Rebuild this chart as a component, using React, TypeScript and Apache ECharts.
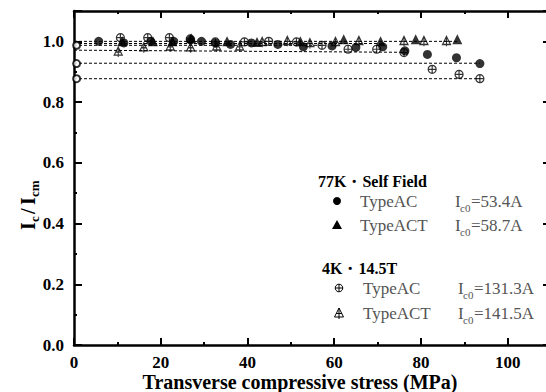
import { useEffect, useRef } from 'react';
import * as echarts from 'echarts';

// ---- data ----
const acSelfX = [5.7, 11.5, 17.7, 23, 26.9, 29.4, 32.6, 36.1, 40.9, 47, 52.9, 59.5, 65, 71.2, 76.3, 81.5, 88.2, 93.6];
const acSelfY = [1.0, 0.995, 1.0, 1.0, 1.005, 1.0, 0.995, 0.99, 0.995, 0.99, 0.982, 0.985, 0.98, 0.982, 0.969, 0.957, 0.946, 0.927];

const actSelfX = [11.1, 18.2, 22.7, 27, 35.3, 42.2, 52.2, 62.2, 70.7, 78.8, 88.4];
const actSelfY = [1.0, 1.0, 1.0, 1.01, 1.0, 0.998, 1.0, 1.007, 1.0, 1.007, 1.007];

const ac4kX = [10.7, 17, 22, 26.8, 32.6, 39.3, 44.9, 51.3, 57.2, 63.2, 69.8, 76.1, 82.6, 88.8, 93.6];
const ac4kY = [1.012, 1.012, 1.012, 1.008, 0.998, 0.998, 1.0, 0.998, 0.987, 0.974, 0.974, 0.963, 0.908, 0.891, 0.877];

const act4kX = [10.2, 16.1, 22.2, 26.9, 32.9, 38.2, 43.4, 49.2, 54.4, 60.3, 65.7, 76.1, 80.7, 85.9];
const act4kY = [0.965, 0.979, 0.982, 0.979, 0.982, 0.982, 0.997, 1.0, 0.993, 0.997, 1.0, 1.0, 1.0, 1.0];

// dashed reference lines: start value, end value, end stress
const refStart = [1.0, 0.993, 0.987, 0.971, 0.928, 0.877];
const refEnd = [1.0, 0.993, 0.987, 0.964, 0.928, 0.877];
const refEndX = [88.6, 71, 57, 76, 93.6, 93.6];

// open marks on the axis
const axisMarkY = [0.987, 0.927, 0.877];

const xTicks = [0, 20, 40, 60, 80, 100];
const legendTitles = ['77K・Self Field', '4K・14.5T'];
const legendNames = ['TypeAC', 'TypeACT', 'TypeAC', 'TypeACT'];
const legendIc0 = ['53.4A', '58.7A', '131.3A', '141.5A'];

const FONT = '"Liberation Serif", "DejaVu Serif", serif';
const CROSS_CIRCLE = 'path://M10,0A10,10,0,1,1,-10,0A10,10,0,1,1,10,0ZM-10,0L10,0M0,-10L0,10';
const CROSS_TRI = 'path://M0,-10L9,8L-9,8ZM0,-10L0,12M-6,1L6,1';

const zip = (xs: number[], ys: number[]) => xs.map((x, i) => [x, ys[i]]);

function axisX(position: string, interval: number, len: number, showLine: boolean, showLabel: boolean) {
  return {
    type: 'value', position, min: 0, max: 110, interval,
    axisLine: { show: showLine, onZero: false, lineStyle: { color: '#000', width: 2.5 } },
    axisTick: { show: true, inside: true, length: len, lineStyle: { color: '#000', width: len > 4 ? 2 : 2 } },
    axisLabel: {
      show: showLabel, margin: 9, color: '#000', fontSize: 17, fontWeight: 'bold', fontFamily: FONT,
      formatter: (v: number) => (xTicks.indexOf(Math.round(v)) >= 0 && Math.abs(v - Math.round(v)) < 1e-6 ? String(Math.round(v)) : ''),
    },
    splitLine: { show: false },
  };
}

function axisY(position: string, interval: number, len: number, showLine: boolean, showLabel: boolean) {
  return {
    type: 'value', position, min: 0, max: 1.1, interval,
    axisLine: { show: showLine, onZero: false, lineStyle: { color: '#000', width: 2.5 } },
    axisTick: { show: true, inside: true, length: len, lineStyle: { color: '#000', width: 2 } },
    axisLabel: {
      show: showLabel, margin: 10, color: '#000', fontSize: 17, fontWeight: 'bold', fontFamily: FONT,
      formatter: (v: number) => (v > 1.05 ? '' : v.toFixed(1)),
    },
    splitLine: { show: false },
  };
}

export default function App() {
  const ref = useRef<HTMLDivElement>(null);
  useEffect(() => {
    if (!ref.current) return;
    const chart = echarts.init(ref.current, null, { renderer: 'svg' });

    const lineSeries = refStart.map((y0, i) => ({
      type: 'line', silent: true, symbol: 'none', z: 1,
      data: [[0, y0], [refEndX[i], refEnd[i]]],
      lineStyle: { color: '#000', width: 1, type: [3, 2] },
    }));

    const rows = [
      { mx: 337, y: 201, tx: 360, ix: 455 },
      { mx: 337, y: 225, tx: 360, ix: 455 },
      { mx: 339, y: 288, tx: 363, ix: 458 },
      { mx: 339, y: 313, tx: 363, ix: 458 },
    ];
    const graphics: any[] = [];
    graphics.push({ type: 'text', x: 318, y: 181, style: { text: legendTitles[0], fontSize: 16, fontWeight: 'bold', fontFamily: FONT, fill: '#000', align: 'left', verticalAlign: 'middle' } });
    graphics.push({ type: 'text', x: 322, y: 268, style: { text: legendTitles[1], fontSize: 16, fontWeight: 'bold', fontFamily: FONT, fill: '#000', align: 'left', verticalAlign: 'middle' } });
    rows.forEach((r, i) => {
      graphics.push({ type: 'text', x: r.tx, y: r.y, style: { text: legendNames[i], fontSize: 17, fontFamily: FONT, fill: '#555', align: 'left', verticalAlign: 'middle' } });
      graphics.push({ type: 'text', x: r.ix, y: r.y, style: { text: 'I', fontSize: 17, fontFamily: FONT, fill: '#555', align: 'left', verticalAlign: 'middle' } });
      graphics.push({ type: 'text', x: r.ix + 5, y: r.y + 7, style: { text: 'c0', fontSize: 11, fontFamily: FONT, fill: '#555', align: 'left', verticalAlign: 'middle' } });
      graphics.push({ type: 'text', x: r.ix + 16, y: r.y, style: { text: '=' + legendIc0[i], fontSize: 17, fontFamily: FONT, fill: '#555', align: 'left', verticalAlign: 'middle' } });
    });
    // legend markers
    const m0 = rows[0], m1 = rows[1], m2 = rows[2], m3 = rows[3];
    graphics.push({ type: 'circle', shape: { cx: m0.mx, cy: m0.y, r: 4 }, style: { fill: '#000' } });
    graphics.push({ type: 'polygon', shape: { points: [[m1.mx, m1.y - 5], [m1.mx + 5, m1.y + 4], [m1.mx - 5, m1.y + 4]] }, style: { fill: '#000' } });
    graphics.push({ type: 'circle', shape: { cx: m2.mx, cy: m2.y, r: 3.8 }, style: { fill: 'none', stroke: '#000', lineWidth: 1 } });
    graphics.push({ type: 'line', shape: { x1: m2.mx - 3.8, y1: m2.y, x2: m2.mx + 3.8, y2: m2.y }, style: { stroke: '#000', lineWidth: 1 } });
    graphics.push({ type: 'line', shape: { x1: m2.mx, y1: m2.y - 3.8, x2: m2.mx, y2: m2.y + 3.8 }, style: { stroke: '#000', lineWidth: 1 } });
    graphics.push({ type: 'polygon', shape: { points: [[m3.mx, m3.y - 5], [m3.mx + 4.5, m3.y + 4], [m3.mx - 4.5, m3.y + 4]] }, style: { fill: 'none', stroke: '#000', lineWidth: 1 } });
    graphics.push({ type: 'line', shape: { x1: m3.mx, y1: m3.y - 5, x2: m3.mx, y2: m3.y + 6 }, style: { stroke: '#000', lineWidth: 1 } });
    graphics.push({ type: 'line', shape: { x1: m3.mx - 3, y1: m3.y + 0.5, x2: m3.mx + 3, y2: m3.y + 0.5 }, style: { stroke: '#000', lineWidth: 1 } });

    // x axis title
    graphics.push({ type: 'text', x: 300, y: 382, style: { text: 'Transverse compressive stress (MPa)', fontSize: 20, fontWeight: 'bold', fontFamily: FONT, fill: '#000', align: 'center', verticalAlign: 'middle' } });
    // y axis title (rotated)
    const yt = (text: string, x: number, y: number, size: number) => ({ type: 'text', x, y, style: { text, fontSize: size, fontWeight: 'bold', fontFamily: FONT, fill: '#000', align: 'left', verticalAlign: 'middle' } });
    graphics.push({
      type: 'group', x: 28, y: 200, rotation: Math.PI / 2,
      children: [yt('I', -30, 0, 20), yt('c', -22, 6, 13), yt('/', -14, 0, 20), yt('I', -5, 0, 20), yt('cm', 3, 6, 13)],
    });

    chart.setOption({
      animation: false,
      grid: { left: 74, right: -5, top: 11, bottom: 47, containLabel: false, outerBoundsMode: 'none' },
      xAxis: [
        axisX('bottom', 10, 3, true, true),
        axisX('bottom', 20, 7, false, false),
        axisX('top', 10, 3, true, false),
        axisX('top', 20, 7, false, false),
      ],
      yAxis: [
        axisY('left', 0.1, 3, true, false),
        axisY('left', 0.2, 8, false, true),
        axisY('right', 0.1, 3, false, false),
        axisY('right', 0.2, 8, false, false),
      ],
      series: [
        ...lineSeries,
        { type: 'scatter', z: 3, symbol: 'circle', symbolSize: 9, data: zip(acSelfX, acSelfY), itemStyle: { color: '#000' } },
        { type: 'scatter', z: 3, symbol: 'triangle', symbolSize: 10, data: zip(actSelfX, actSelfY), itemStyle: { color: '#000' } },
        { type: 'scatter', z: 4, symbol: CROSS_CIRCLE, symbolSize: 8, data: zip(ac4kX, ac4kY), itemStyle: { color: 'rgba(0,0,0,0)', borderColor: '#000', borderWidth: 1.2 } },
        { type: 'scatter', z: 4, symbol: CROSS_TRI, symbolSize: [8, 10], data: zip(act4kX, act4kY), itemStyle: { color: 'rgba(0,0,0,0)', borderColor: '#000', borderWidth: 1.2 } },
        { type: 'scatter', z: 2, symbol: 'emptyCircle', symbolSize: 7, clip: false, data: axisMarkY.map((y) => [0.6, y]), itemStyle: { color: '#000', borderColor: '#000', borderWidth: 1 } },
      ],
      graphic: graphics,
    });
    return () => chart.dispose();
  }, []);
  return <div ref={ref} style={{ position: 'fixed', left: 0, top: 0, width: 546, height: 392, background: '#fff' }} />;
}
